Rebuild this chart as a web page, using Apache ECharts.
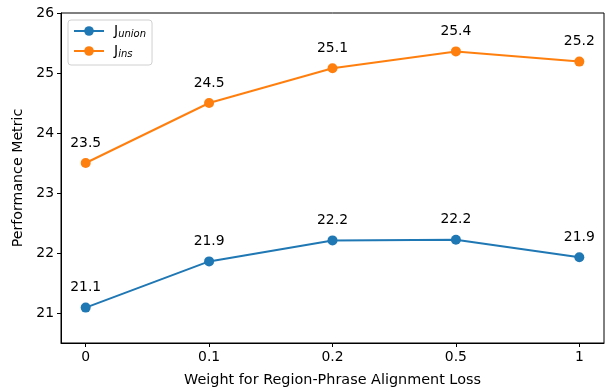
<!DOCTYPE html>
<html><head><meta charset="utf-8">
<script src="https://cdn.jsdelivr.net/npm/echarts@6/dist/echarts.min.js"></script>
<style>html,body{margin:0;padding:0;background:#fff}#c{width:605px;height:392px}</style>
</head><body><div id="c"></div>
<script>
const categories = ['0', '0.1', '0.2', '0.5', '1'];
const jUnion = [21.09, 21.86, 22.21, 22.22, 21.93];
const jIns = [23.5, 24.5, 25.08, 25.36, 25.19];
const yTicks = [21, 22, 23, 24, 25, 26];

const font = 'DejaVu Sans';
const fs = 13.9;
const chart = echarts.init(document.getElementById('c'), null, {renderer: 'canvas'});
function mk(vals) { return vals.map((v, i) => [i, v]); }
const lbl = {show: true, position: 'top', distance: 8, color: '#000', fontFamily: font, fontSize: fs,
  formatter: p => p.value[1].toFixed(1)};
chart.setOption({
  animation: false,
  grid: {left: 61, right: 1, top: 13, bottom: 46, show: true, borderColor: '#000', borderWidth: 1},
  legend: {
    orient: 'vertical', left: 68, top: 20, itemWidth: 30, itemHeight: 12, itemGap: 5,
    padding: [4, 6, 6, 5], borderColor: '#d0d0d0', borderWidth: 1, borderRadius: 3,
    lineStyle: {width: 2},
    textStyle: {fontFamily: font, fontSize: 13, color: '#000',
      rich: {n: {fontFamily: font, fontSize: 14, color: '#000', padding: [0, 0, 0, 5]},
             s: {fontFamily: font, fontSize: 10, fontStyle: 'italic', color: '#000', padding: [6, 0, 0, 0]}}},
    formatter: name => name === 'union' ? '{n|J}{s|union}' : '{n|J}{s|ins}',
    data: ['union', 'ins']
  },
  xAxis: {
    type: 'value', min: -0.2, max: 4.2, interval: 1,
    name: 'Weight for Region-Phrase Alignment Loss', nameLocation: 'middle', nameGap: 30,
    nameTextStyle: {fontFamily: font, fontSize: 14.4, color: '#000'},
    axisLine: {show: true, onZero: false, lineStyle: {color: '#000'}},
    axisTick: {show: true, length: 4, lineStyle: {color: '#000'}, customValues: [0,1,2,3,4]},
    axisLabel: {fontFamily: font, fontSize: fs, color: '#000', margin: 7,
      customValues: [0,1,2,3,4], formatter: v => categories[Math.round(v)]},
    splitLine: {show: false}
  },
  yAxis: {
    type: 'value', min: 20.5, max: 26,
    name: 'Performance Metric', nameLocation: 'middle', nameGap: 36,
    nameTextStyle: {fontFamily: font, fontSize: 14.2, color: '#000'},
    axisLine: {show: true, onZero: false, lineStyle: {color: '#000'}},
    axisTick: {show: true, length: 4, lineStyle: {color: '#000'}, customValues: yTicks},
    axisLabel: {fontFamily: font, fontSize: fs, color: '#000', margin: 7, customValues: yTicks},
    splitLine: {show: false}
  },
  series: [
    {name: 'union', type: 'line', data: mk(jUnion), color: '#1f77b4', symbol: 'circle', symbolSize: 10,
     lineStyle: {width: 2}, label: lbl},
    {name: 'ins', type: 'line', data: mk(jIns), color: '#ff7f0e', symbol: 'circle', symbolSize: 10,
     lineStyle: {width: 2}, label: lbl}
  ]
});
</script></body></html>
